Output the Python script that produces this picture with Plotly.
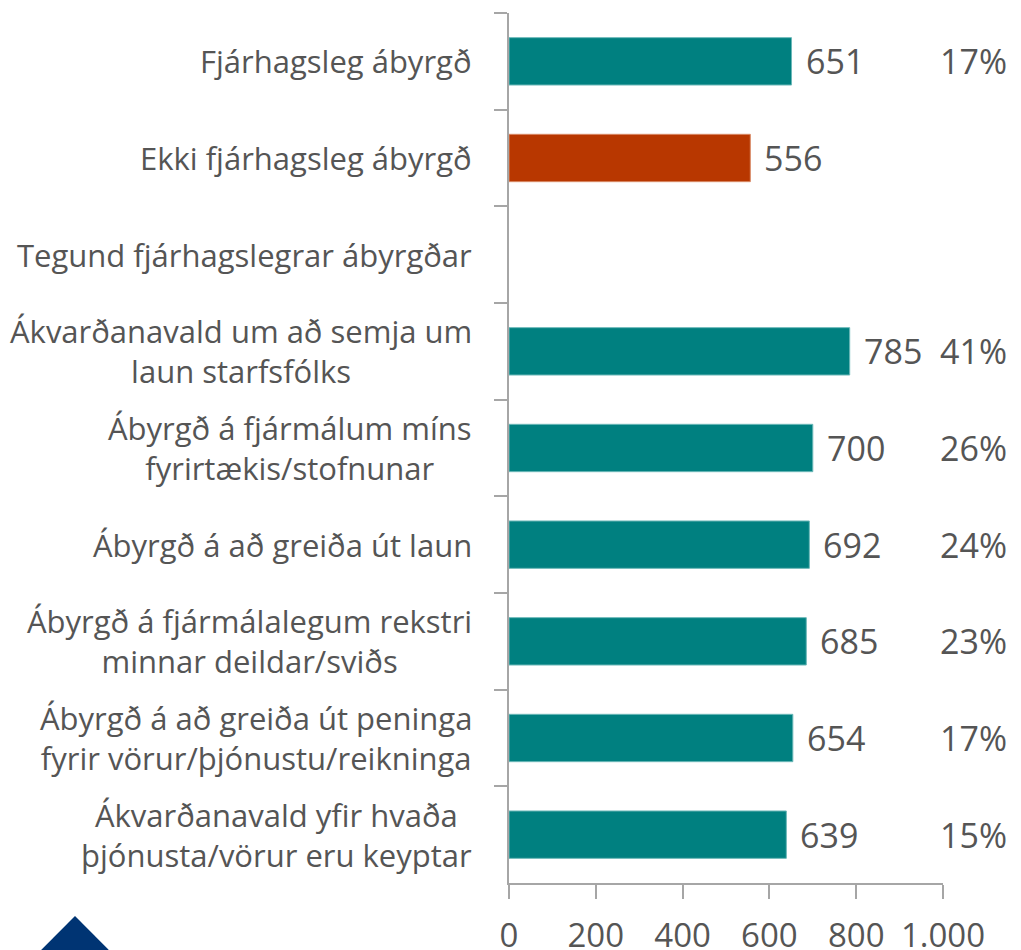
import plotly.graph_objects as go

categories = [
    "Fjárhagsleg ábyrgð",
    "Ekki fjárhagsleg ábyrgð",
    "Tegund fjárhagslegrar ábyrgðar",
    "Ákvarðanavald um að semja um<br>laun starfsfólks",
    "Ábyrgð á fjármálum míns<br>fyrirtækis/stofnunar",
    "Ábyrgð á að greiða út laun",
    "Ábyrgð á fjármálalegum rekstri<br>minnar deildar/sviðs",
    "Ábyrgð á að greiða út peninga<br>fyrir vörur/þjónustu/reikninga",
    "Ákvarðanavald yfir hvaða<br>þjónusta/vörur eru keyptar",
]
values = [651, 556, None, 785, 700, 692, 685, 654, 639]
shares = ["17%", "", "", "41%", "26%", "24%", "23%", "17%", "15%"]
groups = ["teal", "red", "none", "teal", "teal", "teal", "teal", "teal", "teal"]
tick_vals = [0, 200, 400, 600, 800, 1000]
tick_text = ["0", "200", "400", "600", "800", "1.000"]

TEAL = "#008080"
RED = "#B83700"
TEXT = "#555555"
AXIS = "#A6A6A6"
FONT = "Open Sans"
FS = 31
NS = 34

fill = {"teal": TEAL, "red": RED, "none": TEAL}
edge = {"teal": "#6CB8B8", "red": "#D98A66", "none": "#6CB8B8"}

fig = go.Figure(
    go.Bar(
        x=values,
        y=categories,
        orientation="h",
        marker=dict(
            color=[fill[g] for g in groups],
            line=dict(color=[edge[g] for g in groups], width=1),
        ),
        hoverinfo="skip",
    )
)

# category labels (centered multi-line)
for c in categories:
    fig.add_annotation(
        x=0, xref="paper", y=c, yref="y",
        text=c, showarrow=False, xanchor="right", yanchor="middle",
        align="center", xshift=-35,
        font=dict(family=FONT, size=FS, color=TEXT),
    )

# value labels and shares
for c, v, s in zip(categories, values, shares):
    if v is not None:
        fig.add_annotation(
            x=v, xref="x", y=c, yref="y",
            text=f"{v}", showarrow=False, xanchor="left", yanchor="middle",
            xshift=12, font=dict(family=FONT, size=NS, color=TEXT),
        )
    if s:
        fig.add_annotation(
            x=1.07, xref="paper", y=c, yref="y",
            text=s, showarrow=False, xanchor="center", yanchor="middle",
            font=dict(family=FONT, size=NS, color=TEXT),
        )

# logo fragment (decorative), kept inside the figure bounds
fig.add_shape(
    type="path", xref="paper", yref="paper",
    path="M -1.0 -0.0379 L -0.922 -0.0770 L -1.078 -0.0770 Z",
    fillcolor="#003473", line=dict(width=0), layer="above",
)

fig.update_layout(
    width=1021, height=950,
    margin=dict(l=509, r=78, t=13, b=67, autoexpand=False),
    paper_bgcolor="white", plot_bgcolor="white",
    showlegend=False, bargap=0.51,
    font=dict(family=FONT, size=FS, color=TEXT),
    xaxis=dict(
        range=[0, 1000], tickvals=tick_vals, ticktext=tick_text,
        showgrid=False, zeroline=False, showline=True, linecolor=AXIS, linewidth=2,
        ticks="outside", ticklen=14, tickcolor=AXIS, tickwidth=2,
        ticklabelstandoff=8, automargin=False,
        tickfont=dict(family=FONT, size=33, color=TEXT), fixedrange=True,
    ),
    yaxis=dict(
        type="category", categoryorder="array", categoryarray=categories,
        autorange="reversed", showticklabels=False, automargin=False,
        showgrid=False, zeroline=False, showline=True, linecolor=AXIS, linewidth=2,
        ticks="outside", ticklen=13, tickcolor=AXIS, tickwidth=2,
        tickson="boundaries", fixedrange=True,
    ),
)

fig.write_html(
    "out.html",
    config={"displayModeBar": False},
    post_script="document.body.style.margin='0';",
)
